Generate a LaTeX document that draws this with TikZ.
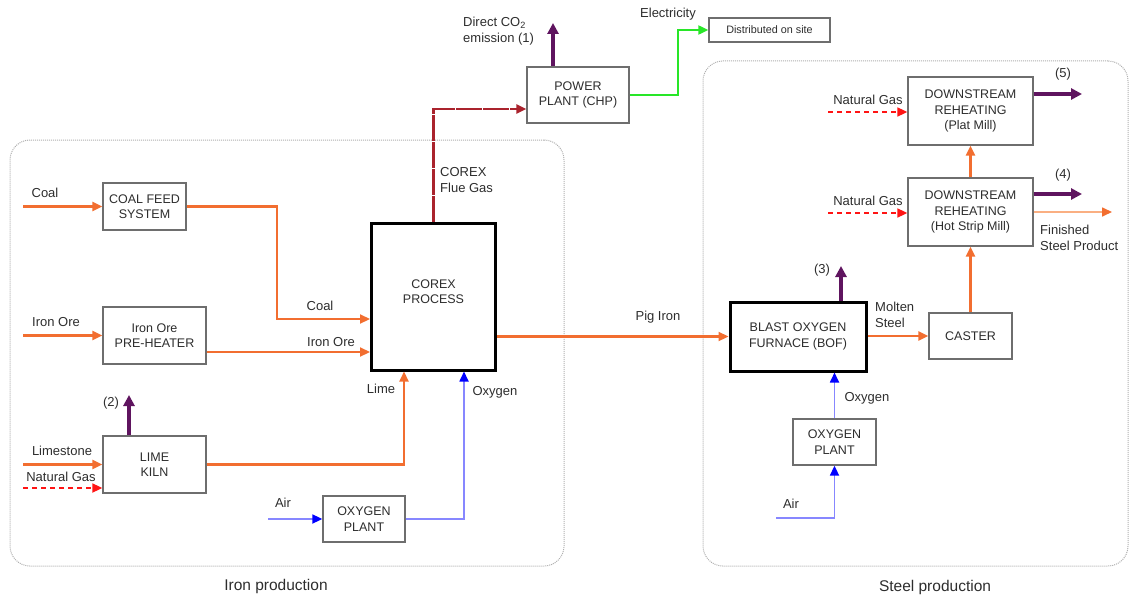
\documentclass[tikz,border=0pt]{standalone}
\usepackage{fontspec}
\setmainfont{Liberation Sans}
\usetikzlibrary{positioning, arrows.meta}

\definecolor{flowOrange}{RGB}{242,110,48}
\definecolor{lightOrange}{RGB}{250,175,130}
\definecolor{gasRed}{RGB}{255,20,20}
\definecolor{flueRed}{RGB}{170,35,45}
\definecolor{emisPurple}{RGB}{95,20,95}
\definecolor{airBlue}{RGB}{135,135,255}
\definecolor{elecGreen}{RGB}{40,230,40}
\definecolor{boxGray}{RGB}{110,110,110}
\definecolor{zoneGray}{RGB}{175,175,175}
\definecolor{textGray}{RGB}{45,45,45}

\begin{document}
\begin{tikzpicture}[
    x=1pt, y=-1pt,
    every node/.style={font=\fontsize{12.5}{15.5}\selectfont, text=textGray},
    procbox/.style={rectangle, draw=boxGray, line width=1.3pt, fill=white, align=center, inner sep=0pt},
    mainbox/.style={rectangle, draw=black, line width=3pt, fill=white, align=center, inner sep=0pt},
    zone/.style={rectangle, draw=zoneGray, densely dotted, line width=1pt, rounded corners=20pt, inner sep=0pt},
    orangeflow/.style={-{Triangle[length=10pt, width=9pt]}, line width=2.2pt, draw=flowOrange},
    productflow/.style={-{Triangle[length=10pt, width=9pt, color=flowOrange]}, line width=1.6pt, draw=lightOrange},
    gasflow/.style={-{Triangle[length=10pt, width=9pt]}, line width=1.7pt, draw=gasRed, dash pattern=on 5pt off 4pt},
    airflow/.style={-{Triangle[length=10pt, width=9pt, color=blue]}, line width=1.7pt, draw=airBlue},
    fluegas/.style={-{Triangle[length=10pt, width=9pt]}, line width=2.2pt, draw=flueRed, dash pattern=on 26pt off 1pt},
    elecflow/.style={-{Triangle[length=10pt, width=9pt]}, line width=2pt, draw=elecGreen},
    emission/.style={-{Triangle[length=11pt, width=11pt]}, line width=4pt, draw=emisPurple},
    lbl/.style={inner sep=0pt, align=left, font=\fontsize{13}{16}\selectfont}
]
% production zones
\node[zone, minimum width=554, minimum height=426] (ironzone) at (287,353) {};
\node[zone, minimum width=425, minimum height=505] (steelzone) at (915.5,313.5) {};
\node[font=\fontsize{15.5}{18}\selectfont] (ironttl) at (276,586) {Iron production};
\node[font=\fontsize{15.5}{18}\selectfont] (steelttl) at (935,587) {Steel production};

% iron side
\node[procbox, minimum width=83, minimum height=47] (coalfeed) at (144.5,206.5) {COAL FEED\\SYSTEM};
\node[procbox, minimum width=103, minimum height=57] (preheater) at (154.5,335.5) {Iron Ore\\PRE-HEATER};
\node[procbox, minimum width=103, minimum height=57] (limekiln) at (154.5,464.5) {LIME\\KILN};
\node[procbox, minimum width=82, minimum height=46] (oxyA) at (364,519) {OXYGEN\\PLANT};
\node[mainbox, minimum width=124, minimum height=147] (corex) at (433.5,296.5) {COREX\\PROCESS\\[-6pt]};
\node[procbox, minimum width=102, minimum height=56] (power) at (578,95) {POWER\\PLANT (CHP)};
\node[procbox, minimum width=121, minimum height=24, font=\fontsize{10.8}{13}\selectfont] (onsite) at (769.5,30) {Distributed on site};

% steel side
\node[mainbox, minimum width=136, minimum height=69] (bof) at (798,336.5) {BLAST OXYGEN\\FURNACE (BOF)};
\node[procbox, minimum width=83, minimum height=46] (caster) at (970.5,336) {CASTER};
\node[procbox, minimum width=83, minimum height=46] (oxyB) at (834.5,442) {OXYGEN\\PLANT};
\node[procbox, minimum width=125, minimum height=68] (strip) at (970.5,212) {DOWNSTREAM\\REHEATING\\(Hot Strip Mill)};
\node[procbox, minimum width=125, minimum height=68] (plat) at (970.5,111) {DOWNSTREAM\\REHEATING\\(Plat Mill)};

% free ends
\coordinate (coalsrc) at (23,206.5);
\coordinate (oresrc) at (23,335.5);
\coordinate (limesrc) at (23,464.5);
\coordinate (ngsrcA) at (23,488);
\coordinate (airsrcA) at (268,519);
\coordinate (co2top) at (553,23);
\coordinate (emis2top) at (129,395);
\coordinate (emis3top) at (841,266);
\coordinate (emis4end) at (1082,194);
\coordinate (emis5end) at (1082,94);
\coordinate (prodend) at (1112,212);
\coordinate (ngsrcB) at (828,112);
\coordinate (ngsrcC) at (828,213);
\coordinate (airsrcB) at (776,518);

% iron flows
\draw[orangeflow] (coalsrc) -- (coalfeed);
\draw[orangeflow] (coalfeed.east) -| (277,319) -- (corex.west |- 277,319);
\draw[orangeflow] (oresrc) -- (preheater);
\draw[orangeflow] (preheater.east |- 0,352) -- (corex.west |- 0,352);
\draw[orangeflow] (limesrc) -- (limekiln);
\draw[gasflow] (ngsrcA) -- (limekiln.west |- ngsrcA);
\draw[emission] (limekiln.north -| emis2top) -- (emis2top);
\draw[orangeflow] (limekiln.east) -| ([xshift=-29.5pt]corex.south);
\draw[airflow] (airsrcA) -- (oxyA);
\draw[airflow] (oxyA.east) -| ([xshift=30.5pt]corex.south);
\draw[fluegas] (corex.north) |- ([yshift=-14pt]power.west);
\draw[emission] (power.north -| co2top) -- (co2top);
\draw[elecflow] (power.east) -| ([xshift=-30pt]onsite.west) -- (onsite.west);
\draw[orangeflow] (corex.east |- bof.west) -- (bof.west);

% steel flows
\draw[emission] (bof.north -| emis3top) -- (emis3top);
\draw[orangeflow] (bof.east |- caster.west) -- (caster.west);
\draw[orangeflow] (caster.north) -- (strip.south);
\draw[orangeflow] (strip.north) -- (plat.south);
\draw[airflow] (oxyB.north) -- (oxyB.north |- bof.south);
\draw[airflow] (airsrcB) -| (oxyB.south);
\draw[gasflow] (ngsrcB) -- (plat.west |- ngsrcB);
\draw[gasflow] (ngsrcC) -- (strip.west |- ngsrcC);
\draw[emission] (plat.east |- emis5end) -- (emis5end);
\draw[emission] (strip.east |- emis4end) -- (emis4end);
\draw[productflow] (strip.east) -- (prodend);

% labels
\node[lbl] (lcoal) at (45,193) {Coal};
\node[lbl] (lore) at (56,322) {Iron Ore};
\node[lbl] (lcoal2) at (320,306) {Coal};
\node[lbl] (lore2) at (331,342) {Iron Ore};
\node[lbl] (llimestone) at (62,451) {Limestone};
\node[lbl] (lngA) at (61,477) {Natural Gas};
\node[lbl] (l2) at (111,403) {(2)};
\node[lbl] (llime) at (381,389) {Lime};
\node[lbl] (loxyA) at (495,392) {Oxygen};
\node[lbl] (lairA) at (283,503) {Air};
\node[lbl, anchor=west] (lflue) at (440,180) {COREX\\Flue Gas};
\node[lbl, anchor=west] (lco2) at (463,31) {Direct CO\textsubscript{2}\\emission (1)};
\node[lbl] (lelec) at (668,14) {Electricity};
\node[lbl] (lpig) at (658,317) {Pig Iron};
\node[lbl] (l3) at (822,270) {(3)};
\node[lbl, anchor=west] (lmolten) at (875,315) {Molten\\Steel};
\node[lbl] (loxyB) at (867,398) {Oxygen};
\node[lbl] (lairB) at (791,504) {Air};
\node[lbl] (lngB) at (868,100) {Natural Gas};
\node[lbl] (lngC) at (868,201) {Natural Gas};
\node[lbl] (l5) at (1063,74) {(5)};
\node[lbl] (l4) at (1063,175) {(4)};
\node[lbl, anchor=west] (lfinished) at (1040,238) {Finished\\Steel Product};

\useasboundingbox (0,0) rectangle (1129,602);
\end{tikzpicture}
\end{document}
